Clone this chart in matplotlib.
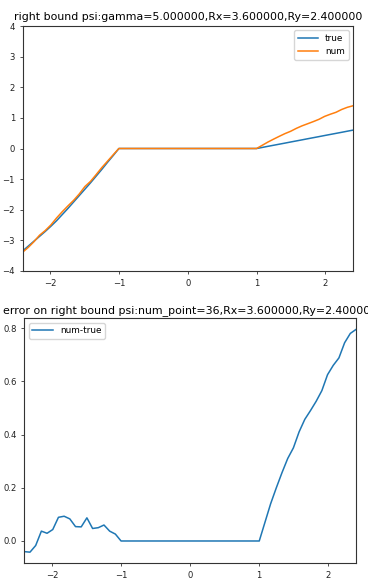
import numpy as np
import matplotlib
matplotlib.use("Agg")
import matplotlib.pyplot as plt

# grid: 18 points on each side of the flat region
x_left = np.linspace(-2.4, -1.0, 18)
x_right = np.linspace(1.0, 2.4, 18)

true_left = [-3.35, -3.19, -3.03, -2.87, -2.71, -2.54, -2.36, -2.16, -1.96,
             -1.75, -1.54, -1.33, -1.12, -0.90, -0.68, -0.45, -0.23, 0.0]
num_left = [-3.39, -3.232, -3.047, -2.833, -2.681, -2.497, -2.271, -2.067, -1.877,
            -1.696, -1.487, -1.243, -1.073, -0.85, -0.62, -0.413, -0.204, 0.0]
err_left = [-0.040, -0.042, -0.017, 0.037, 0.029, 0.043, 0.089, 0.093, 0.083,
            0.054, 0.053, 0.087, 0.047, 0.050, 0.060, 0.037, 0.026, 0.0]

true_right = [0.0, 0.035, 0.071, 0.106, 0.141, 0.176, 0.212, 0.247, 0.282,
              0.318, 0.353, 0.388, 0.424, 0.459, 0.494, 0.529, 0.565, 0.600]
num_right = [0.0, 0.105, 0.211, 0.306, 0.398, 0.486, 0.562, 0.657, 0.739,
             0.808, 0.878, 0.953, 1.049, 1.119, 1.182, 1.274, 1.345, 1.395]
err_right = [0.0, 0.07, 0.14, 0.20, 0.257, 0.31, 0.35, 0.41, 0.457,
             0.49, 0.525, 0.565, 0.625, 0.66, 0.688, 0.745, 0.78, 0.795]

x = np.concatenate([x_left, x_right])
true_v = np.array(true_left + true_right)
num_v = np.array(num_left + num_right)
err_v = np.array(err_left + err_right)

title_top = "right bound psi:gamma=5.000000,Rx=3.600000,Ry=2.400000"
title_bot = "error on right bound psi:num_point=36,Rx=3.600000,Ry=2.400000"

plt.rcParams.update({
    "font.size": 6.1,
    "lines.linewidth": 1.1,
    "axes.linewidth": 0.8,
    "axes.edgecolor": "#333333",
    "xtick.major.size": 2.4,
    "ytick.major.size": 2.4,
    "xtick.major.width": 0.6,
    "ytick.major.width": 0.6,
    "xtick.major.pad": 3.0,
    "ytick.major.pad": 3.0,
    "xtick.color": "#333333",
    "ytick.color": "#333333",
    "xtick.labelcolor": "#222222",
    "ytick.labelcolor": "#222222",
    "axes.titlepad": 4.0,
    "legend.fontsize": 6.4,
    "legend.handlelength": 2.3,
})

dpi = 100
fig = plt.figure(figsize=(368 / dpi, 586 / dpi), dpi=dpi)

ax1 = fig.add_axes([22.5 / 368, 1 - 271 / 586, (353 - 22.5) / 368, (271 - 26) / 586])
ax1.plot(x, true_v, color="#1f77b4", label="true")
ax1.plot(x, num_v, color="#ff7f0e", label="num")
ax1.set_xlim(-2.4, 2.4)
ax1.set_ylim(-4, 4)
ax1.set_xticks([-2, -1, 0, 1, 2])
ax1.set_yticks([-4, -3, -2, -1, 0, 1, 2, 3, 4])
ax1.set_title(title_top, fontsize=7.9)
ax1.legend(loc="upper right")

ax2 = fig.add_axes([24.3 / 368, 1 - 563.3 / 586, (356 - 24.3) / 368, (563.3 - 318.3) / 586])
ax2.plot(x, err_v, color="#1f77b4", label="num-true")
ax2.set_xlim(-2.4, 2.4)
ax2.set_xticks([-2, -1, 0, 1, 2])
ax2.set_yticks([0.0, 0.2, 0.4, 0.6, 0.8])
ax2.set_title(title_bot, fontsize=7.9)
ax2.legend(loc="upper left")

fig.savefig("out.png", dpi=dpi)
